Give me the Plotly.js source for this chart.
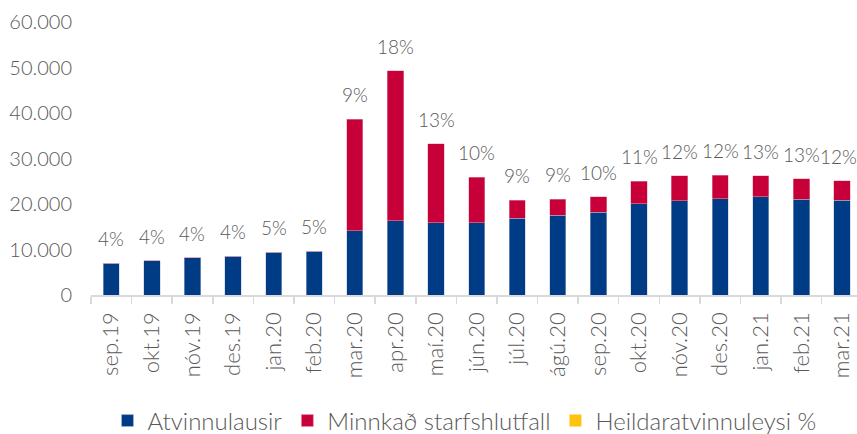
<!DOCTYPE html>
<html>
<head>
<meta charset="utf-8">
<script src="https://cdn.plot.ly/plotly-3.0.1.min.js"></script>
<style>html,body{margin:0;padding:0;background:#fff;}#chart{width:857px;height:434px;}</style>
</head>
<body>
<div id="chart"></div>
<script>
const categories = ["sep.19","okt.19","nóv.19","des.19","jan.20","feb.20","mar.20","apr.20","maí.20","jún.20","júl.20","ágú.20","sep.20","okt.20","nóv.20","des.20","jan.21","feb.21","mar.21"];
const atvinnulausir = [7000,7550,8200,8550,9450,9600,14070,16270,15900,15900,16920,17580,18240,20070,20730,21170,21610,21100,20810];
const minnkad = [0,0,0,0,0,0,24550,32970,17290,9970,3960,3520,3370,4920,5500,5130,4620,4400,4250];
const heildar = [4,4,4,4,5,5,9,18,13,10,9,9,10,11,12,12,13,13,12];
const yTickVals = [0,10000,20000,30000,40000,50000,60000];
const yTickText = ['0','10.000','20.000','30.000','40.000','50.000','60.000'];

const FONT = 'Lato, "Noto Sans", sans-serif';
const GREY = '#595959';
const W = 300;

const totals = categories.map((c,i)=>atvinnulausir[i]+minnkad[i]+heildar[i]);
const last = categories.length - 1;
const annotations = categories.map((c,i)=>({
  x: c, y: totals[i], xref:'x', yref:'y', text: heildar[i] + '%',
  showarrow:false, yanchor:'bottom', yshift:11, xshift: i === last ? -3 : 0,
  font:{family:FONT,size:19,color:GREY,weight:W}
}));

const traces = [
  {type:'bar', name:'Atvinnulausir', x:categories, y:atvinnulausir, marker:{color:'#003c85', line:{color:'#b8c6dc', width:0.5}}},
  {type:'bar', name:'Minnkað starfshlutfall', x:categories, y:minnkad, marker:{color:'#c8003a', line:{color:'#e8a0b0', width:0.5}}},
  {type:'bar', name:'Heildaratvinnuleysi %', x:categories, y:heildar, marker:{color:'#ffc20e'}}
];

const layout = {
  width:857, height:434,
  margin:{l:91, r:0, t:22, b:139},
  barmode:'stack', bargap:0.6,
  paper_bgcolor:'#fff', plot_bgcolor:'#fff',
  font:{family:FONT, size:20, color:GREY, weight:W},
  showlegend:true,
  legend:{orientation:'h', x:0.542, xanchor:'center', xref:'container', y:0.03, yref:'container', yanchor:'middle',
          font:{family:FONT,size:24,color:GREY,weight:W}, itemwidth:30, traceorder:'normal'},
  xaxis:{type:'category', range:[-0.5,18.37], showline:true, linecolor:'#d9d9d9', linewidth:1.5,
         ticks:'outside', tickson:'boundaries', ticklen:7, tickcolor:'#d9d9d9', tickwidth:1.5,
         tickangle:-90, ticklabelstandoff:7, tickfont:{family:FONT,size:22,color:GREY,weight:W},
         showgrid:false, zeroline:false, fixedrange:true},
  yaxis:{range:[0,60000], tickvals:yTickVals, ticktext:yTickText,
         showgrid:false, zeroline:false, showline:false, ticks:'', ticklabelstandoff:18,
         tickfont:{family:FONT,size:20,color:GREY,weight:W}, fixedrange:true},
  annotations: annotations
};

Plotly.newPlot('chart', traces, layout, {displayModeBar:false, staticPlot:true});
</script>
</body>
</html>
